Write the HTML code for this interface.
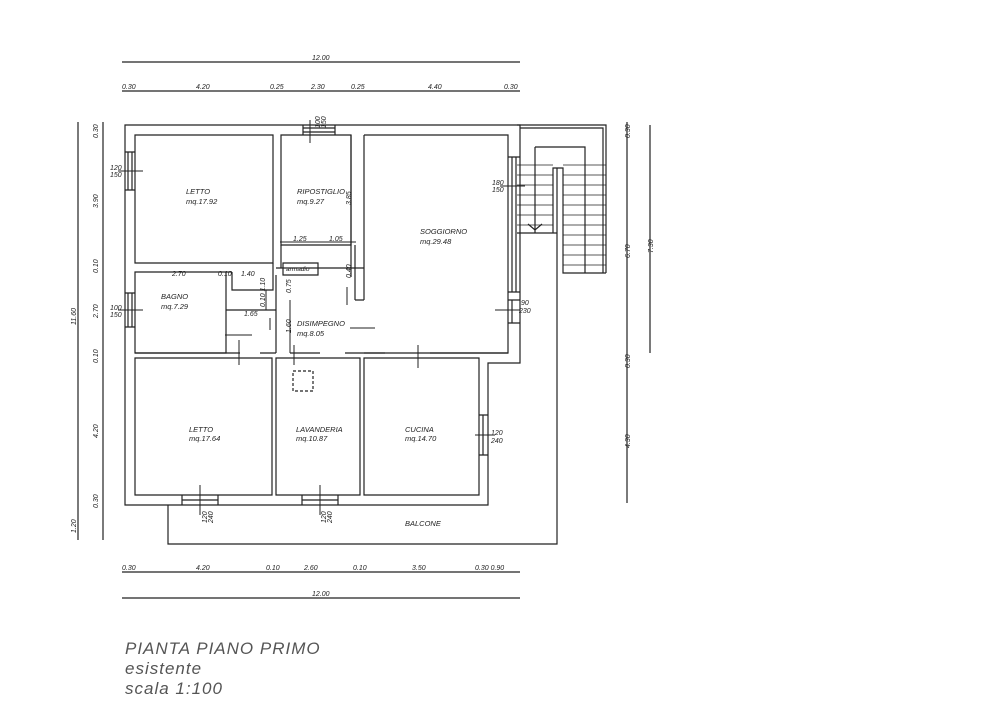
<!DOCTYPE html>
<html><head><meta charset="utf-8"><style>
html,body{margin:0;padding:0;background:#fff;}
svg{display:block}
text{font-family:"Liberation Sans",sans-serif;font-style:italic;fill:#222;}
.d{font-size:7px}
.r{font-size:7.5px}
.t{font-family:"Liberation Sans",sans-serif;font-style:italic;font-size:17px;fill:#555;letter-spacing:1px}
</style></head><body>
<svg width="1000" height="706" viewBox="0 0 1000 706" xmlns="http://www.w3.org/2000/svg">
<g stroke="#222" stroke-width="1.2" fill="none">
<!-- dimension lines -->
<line x1="122" y1="62" x2="520" y2="62"/>
<line x1="122" y1="91" x2="520" y2="91"/>
<line x1="122" y1="572" x2="520" y2="572"/>
<line x1="122" y1="598" x2="520" y2="598"/>
<line x1="78" y1="122" x2="78" y2="540"/>
<line x1="103" y1="122" x2="103" y2="540"/>
<line x1="627" y1="122" x2="627" y2="503"/>
<line x1="650" y1="125" x2="650" y2="353"/>
<!-- outer walls -->
<path d="M125,125 H520 V363 H488 V505 H125 Z"/>
<path d="M135,135 H273 V263 H135 Z"/>
<path d="M281,135 H351 V245 H281 Z" />
<path d="M351,135 V277 M364,135 V300 M355,245 V300 M364,300 H355"/>
<path d="M364,135 H508 V353 H364"/>
<path d="M135,272 H226 V353 H135 Z"/>
<path d="M232,272 V290 H273 V263 M226,272 H232"/>
<path d="M276,268 H364 M281,245 V268"/>
<path d="M283,263 H318 V275 H283 Z"/>
<path d="M276,275 V353"/>
<path d="M226,310 H276"/>
<path d="M135,358 H272 V495 H135 Z"/>
<path d="M276,358 H360 V495 H276 Z"/>
<path d="M364,358 H479 V495 H364 Z"/>
<path d="M135,353 H240 M260,353 H276 M290,353 H320 M345,353 H385 M430,353 H508"/>
<!-- windows -->
<path d="M125,152 H135 M125,190 H135 M128,152 V190 M132,152 V190"/>
<path d="M125,293 H135 M125,327 H135 M128,293 V327 M132,293 V327"/>
<path d="M303,125 V135 M335,125 V135 M303,128 H335 M303,132 H335"/>
<path d="M508,157 H520 M508,292 H520 M512,157 V292 M516,157 V292"/>
<path d="M508,300 H520 M508,323 H520 M512,300 V323"/>
<path d="M479,415 H488 M479,455 H488 M483,415 V455"/>
<path d="M182,495 V505 M218,495 V505 M182,500 H218"/>
<path d="M302,495 V505 M338,495 V505 M302,500 H338"/>
<!-- balcony -->
<path d="M168,505 V544 H557 V168"/>
<!-- stairs -->
<path d="M517,125 H606 V273 M520,128 H603 V273"/>
<path d="M535,147 H585 V273 M535,147 V233"/>
<path d="M553,233 V168 H563 V273 H606 M517,233 H557"/>
<g stroke-width="0.8">
<path d="M517,165H553 M517,175H553 M517,185H553 M517,195H553 M517,205H553 M517,215H553 M517,225H553"/>
<path d="M563,165H606 M563,175H606 M563,185H606 M563,195H606 M563,205H606 M563,215H606 M563,225H606 M563,235H606 M563,245H606 M563,255H606 M563,265H606"/>
</g>
<path d="M528,224 L535,230 L542,224"/>
<!-- dashed -->
<rect x="293" y="371" width="20" height="20" stroke-dasharray="3,2"/>
<!-- misc ticks -->
<g stroke-width="1">
<path d="M118,171H143 M118,310H143 M310,120V143 M500,186H525 M495,310H520 M475,435H495 M200,485V515 M320,485V515"/>
<path d="M239,340V365 M225,335H252 M266,290V310 M347,287V305 M350,328H375 M294,345V365 M418,345V368 M270,318V330"/>
<path d="M280,242H356 M290,300V353"/>
</g>
</g>
<!-- dims text -->
<text class="d" x="312" y="60">12.00</text>
<text class="d" x="122" y="89">0.30</text><text class="d" x="196" y="89">4.20</text><text class="d" x="270" y="89">0.25</text><text class="d" x="311" y="89">2.30</text><text class="d" x="351" y="89">0.25</text><text class="d" x="428" y="89">4.40</text><text class="d" x="504" y="89">0.30</text>
<text class="d" x="122" y="570">0.30</text><text class="d" x="196" y="570">4.20</text><text class="d" x="266" y="570">0.10</text><text class="d" x="304" y="570">2.60</text><text class="d" x="353" y="570">0.10</text><text class="d" x="412" y="570">3.50</text><text class="d" x="475" y="570">0.30 0.90</text>
<text class="d" x="312" y="596">12.00</text>
<g class="d">
<text transform="translate(98,138) rotate(-90)">0.30</text>
<text transform="translate(98,208) rotate(-90)">3.90</text>
<text transform="translate(98,273) rotate(-90)">0.10</text>
<text transform="translate(98,318) rotate(-90)">2.70</text>
<text transform="translate(98,363) rotate(-90)">0.10</text>
<text transform="translate(98,438) rotate(-90)">4.20</text>
<text transform="translate(98,508) rotate(-90)">0.30</text>
<text transform="translate(76,325) rotate(-90)">11.60</text>
<text transform="translate(76,533) rotate(-90)">1.20</text>
<text transform="translate(630,138) rotate(-90)">0.30</text>
<text transform="translate(630,258) rotate(-90)">6.70</text>
<text transform="translate(630,368) rotate(-90)">0.30</text>
<text transform="translate(630,448) rotate(-90)">4.30</text>
<text transform="translate(653,253) rotate(-90)">7.30</text>
<text transform="translate(320,128) rotate(-90)">100</text>
<text transform="translate(326,128) rotate(-90)">150</text>
<text transform="translate(207,523) rotate(-90)">120</text>
<text transform="translate(213,523) rotate(-90)">240</text>
<text transform="translate(326,523) rotate(-90)">120</text>
<text transform="translate(332,523) rotate(-90)">240</text>
<text transform="translate(351,205) rotate(-90)">3.85</text>
<text transform="translate(351,278) rotate(-90)">0.40</text>
<text transform="translate(291,293) rotate(-90)">0.75</text>
<text transform="translate(291,333) rotate(-90)">1.60</text>
<text transform="translate(265,307) rotate(-90)">0.10 1.10</text>
</g>
<g class="d">
<text x="110" y="170">120</text><text x="110" y="177">150</text>
<text x="110" y="310">100</text><text x="110" y="317">150</text>
<text x="492" y="185">180</text><text x="492" y="192">150</text>
<text x="521" y="305">90</text><text x="519" y="313">230</text>
<text x="491" y="435">120</text><text x="491" y="443">240</text>
<text x="172" y="276">2.70</text><text x="218" y="276">0.10</text><text x="241" y="276">1.40</text>
<text x="244" y="316">1.65</text>
<text x="293" y="241">1.25</text><text x="329" y="241">1.05</text>
<text x="286" y="271" style="font-size:6.5px">armadio</text>
</g>
<g class="r">
<text x="186" y="194">LETTO</text><text x="186" y="204">mq.17.92</text>
<text x="297" y="194">RIPOSTIGLIO</text><text x="297" y="204">mq.9.27</text>
<text x="420" y="234">SOGGIORNO</text><text x="420" y="244">mq.29.48</text>
<text x="161" y="299">BAGNO</text><text x="161" y="309">mq.7.29</text>
<text x="297" y="326">DISIMPEGNO</text><text x="297" y="336">mq.8.05</text>
<text x="189" y="432">LETTO</text><text x="189" y="441">mq.17.64</text>
<text x="296" y="432">LAVANDERIA</text><text x="296" y="441">mq.10.87</text>
<text x="405" y="432">CUCINA</text><text x="405" y="441">mq.14.70</text>
<text x="405" y="526">BALCONE</text>
</g>
<text class="t" x="125" y="654">PIANTA  PIANO  PRIMO</text>
<text class="t" x="125" y="674">esistente</text>
<text class="t" x="125" y="694">scala  1:100</text>
</svg>
</body></html>
